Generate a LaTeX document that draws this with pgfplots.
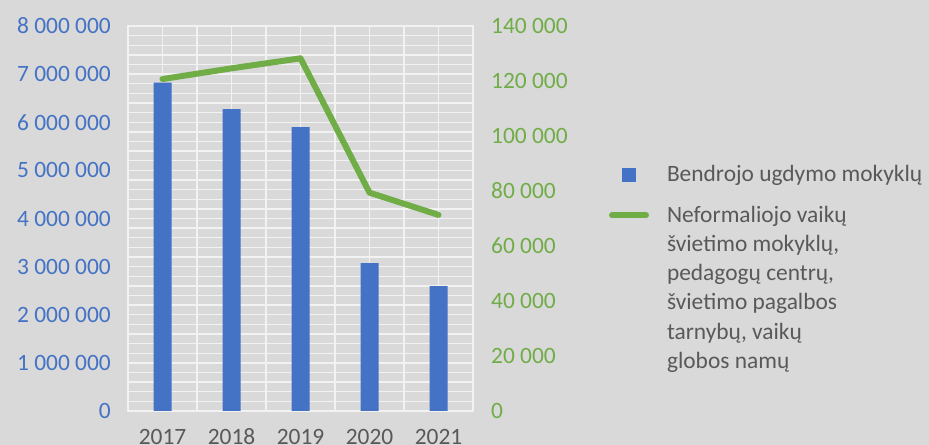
\documentclass[border=0pt]{standalone}
\usepackage{pgfplots}
\pgfplotsset{compat=1.18}
\usepackage{fontspec}
\setmainfont{Carlito}

\definecolor{bgc}{HTML}{D9D9D9}
\definecolor{gridc}{HTML}{F2F2F2}
\definecolor{barblue}{HTML}{4472C4}
\definecolor{linegreen}{HTML}{70AD47}
\definecolor{textc}{HTML}{595959}

\newcommand{\lgtext}[1]{\begin{tabular}[t]{@{}l@{}}#1\end{tabular}}

\begin{document}
\begin{tikzpicture}[font=\fontsize{23.5}{29.3}\selectfont]
\path[use as bounding box, fill=bgc] (0,0) rectangle (929bp,445bp);

% bars, left axis
\begin{axis}[
    at={(128bp,34bp)}, anchor=south west,
    width=345bp, height=385bp, scale only axis,
    xmin=-0.5, xmax=4.5, ymin=0, ymax=8000000,
    xtick={0,1,2,3,4},
    xticklabels={2017,2018,2019,2020,2021},
    minor x tick num=1,
    ytick={0,1000000,2000000,3000000,4000000,5000000,6000000,7000000,8000000},
    minor y tick num=4,
    grid=both,
    grid style={color=gridc, line width=1.3bp},
    minor grid style={color=gridc, line width=1.3bp},
    axis line style={draw=gridc, line width=1.3bp},
    tick style={draw=none},
    major tick length=0pt, minor tick length=0pt,
    scaled y ticks=false,
    /pgf/number format/assume math mode=true,
    yticklabel style={/pgf/number format/fixed, /pgf/number format/1000 sep={\ },
        text=barblue, inner sep=0pt, xshift=-17bp},
    xticklabel style={text=textc, inner sep=0pt, anchor=base, yshift=-33bp},
    ybar, bar width=18bp,
]
\addplot[fill=barblue, draw=none, bar shift=0pt] coordinates {
    (0,6822600) (1,6275300) (2,5901300) (3,3075300) (4,2597400)};
\end{axis}

% line, right axis
\begin{axis}[
    at={(128bp,34bp)}, anchor=south west,
    width=345bp, height=385bp, scale only axis,
    xmin=-0.5, xmax=4.5, ymin=0, ymax=140000,
    axis x line=none, axis y line*=right,
    axis line style={draw=none},
    ytick={0,20000,40000,60000,80000,100000,120000,140000},
    tick style={draw=none},
    major tick length=0pt,
    scaled y ticks=false,
    /pgf/number format/assume math mode=true,
    yticklabel style={/pgf/number format/fixed, /pgf/number format/1000 sep={\ },
        text=linegreen, inner sep=0pt, xshift=18bp},
    legend style={at={(1.3942,0.6501)}, anchor=north west, draw=none, fill=none,
        inner sep=0pt, outer sep=0pt, column sep=18bp, row sep=19.3bp,
        text=textc, font=\fontsize{23.5}{29.3}\selectfont,
        nodes={inner sep=0pt, outer sep=0pt}, cells={anchor=base west}},
]
\addlegendimage{legend image code/.code={
    \path[draw=none, fill=none] (0bp,0bp) rectangle (40bp,1bp);
    \fill[barblue, draw=none] (13bp,-1bp) rectangle (27bp,13bp);}}
\addlegendentry{\lgtext{Bendrojo ugdymo mokyklų}}
\addplot[color=linegreen, line width=6bp, line join=round, line cap=round,
    legend image code/.code={
    \path[draw=none, fill=none] (0bp,0bp) rectangle (40bp,1bp);
    \draw[line width=6bp, linegreen, line cap=round] (3bp,7bp) -- (37bp,7bp);}]
    coordinates {(0,120700) (1,124600) (2,128250) (3,79400) (4,71300)};
\addlegendentry{\lgtext{Neformaliojo vaikų\\švietimo mokyklų,\\pedagogų centrų,\\švietimo pagalbos\\tarnybų, vaikų\\globos namų}}
\end{axis}
\end{tikzpicture}
\end{document}
